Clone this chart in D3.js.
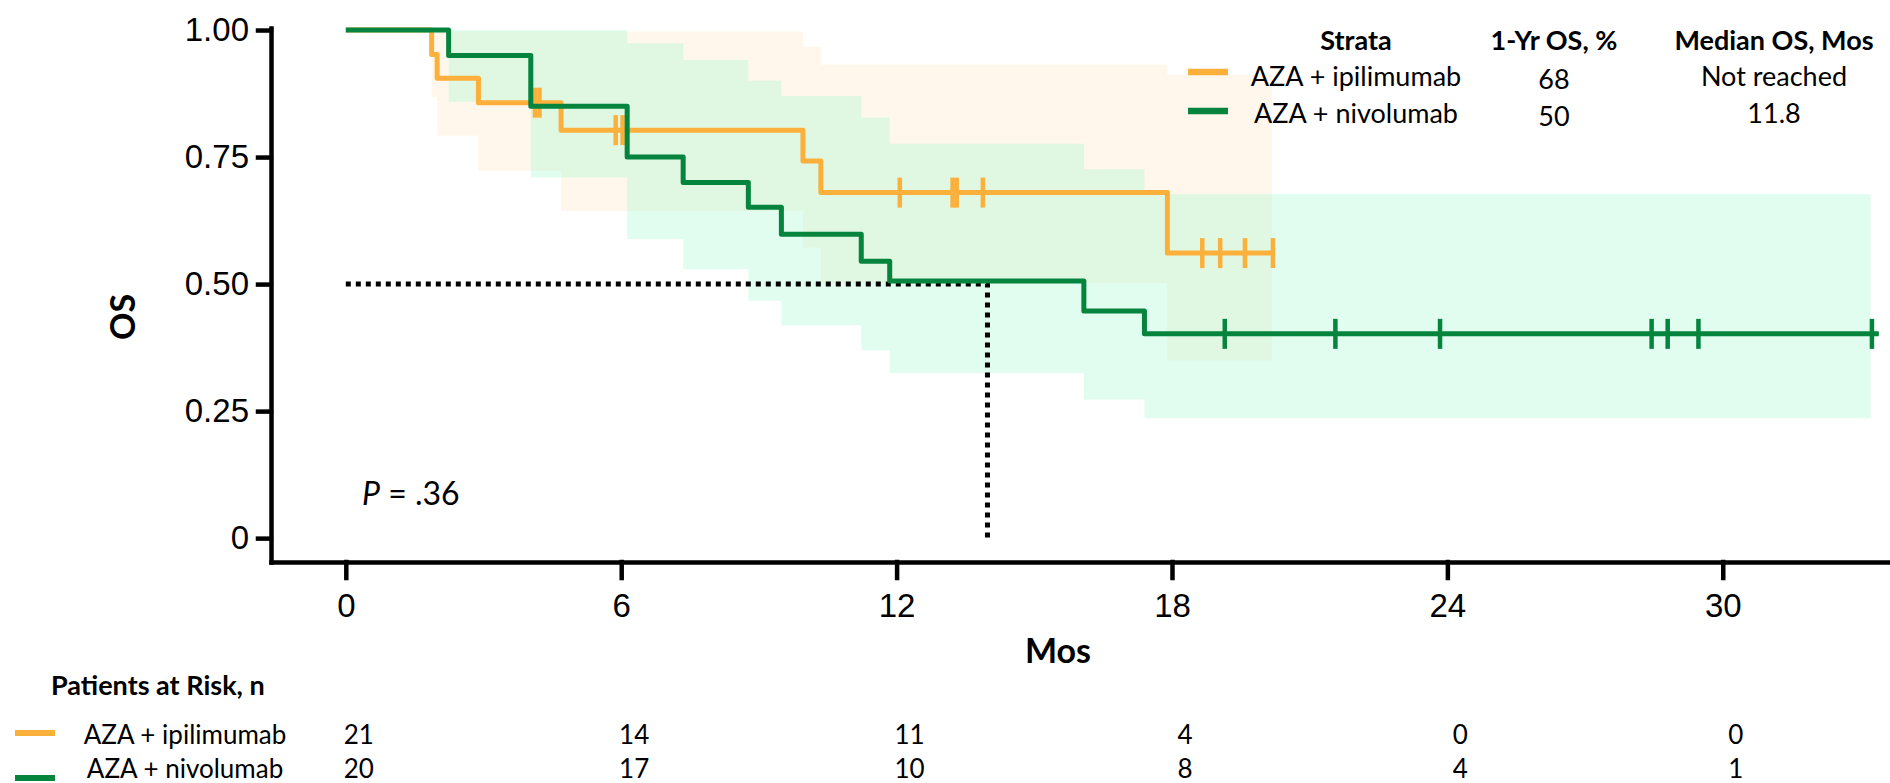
<!DOCTYPE html>
<html>
<head>
<meta charset="utf-8">
<script src="https://cdn.jsdelivr.net/npm/d3@7"></script>
<style>
  body { margin: 0; background: #fff; }
  svg { display: block; font-family: Lato, "Open Sans", sans-serif; }
</style>
</head>
<body>
<div id="chart"></div>
<script>
// Values (months, survival probability)
const groups = ["AZA + ipilimumab", "AZA + nivolumab"];

const ipiTimes = [0, 1.87, 1.99, 2.89, 4.69, 9.96, 10.35, 17.9];
const ipiSurv = [1, 0.952, 0.905, 0.857, 0.803, 0.742, 0.68, 0.561];
const ipiEnd = 20.25;
const ipiCensor = [4.12, 4.22, 5.88, 6.03, 12.07, 13.22, 13.31, 13.88, 18.66, 19.05, 19.59, 20.2];
const ipiCiTimes = [1.87, 1.99, 2.89, 4.69, 9.96, 10.35, 17.9];
const ipiLower = [0.868, 0.792, 0.723, 0.644, 0.572, 0.502, 0.35];
const ipiUpper = [0.997, 0.997, 0.997, 0.997, 0.967, 0.932, 0.912];
const ipiCiEnd = 20.18;

const nivoTimes = [0, 2.24, 4.03, 6.13, 7.35, 8.77, 9.49, 11.23, 11.85, 16.08, 17.4];
const nivoSurv = [1, 0.95, 0.85, 0.75, 0.7, 0.651, 0.598, 0.545, 0.506, 0.447, 0.402];
const nivoEnd = 33.4;
const nivoCensor = [19.15, 21.56, 23.84, 28.45, 28.8, 29.47, 33.25];
const nivoCiTimes = [2.24, 4.03, 6.13, 7.35, 8.77, 9.49, 11.23, 11.85, 16.08, 17.4];
const nivoLower = [0.859, 0.71, 0.588, 0.529, 0.467, 0.419, 0.37, 0.325, 0.273, 0.236];
const nivoUpper = [1, 1, 0.974, 0.941, 0.9, 0.87, 0.828, 0.776, 0.726, 0.677];
const nivoCiEnd = 33.22;

const medianGuide = [[0, 0.5], [13.98, 0.5], [13.98, 0]];

const xTicks = [0, 6, 12, 18, 24, 30];
const yTicks = [0, 0.25, 0.5, 0.75, 1];
const yTickLabels = ["0", "0.25", "0.50", "0.75", "1.00"];

const legendHeaders = ["Strata", "1-Yr OS, %", "Median OS, Mos"];
const oneYearOS = ["68", "50"];
const medianOS = ["Not reached", "11.8"];

const riskTimes = [0, 6, 12, 18, 24, 30];
const ipiAtRisk = [21, 14, 11, 4, 0, 0];
const nivoAtRisk = [20, 17, 10, 8, 4, 1];

const pValueText = ".36";

// Layout
const width = 1890;
const height = 783;
const lineColors = ["#FBB03B", "#05843E"];

const x = d3.scaleLinear().domain([-1.63, 33.6]).range([271, 1888]);
const y = d3.scaleLinear().domain([-0.047, 1.004]).range([562, 28]);

const svg = d3
  .create("svg")
  .attr("width", width)
  .attr("height", height)
  .attr("viewBox", [0, 0, width, height]);

// Build series
const series = [
  {
    name: groups[0],
    color: lineColors[0],
    steps: ipiTimes.map((t, i) => ({ t, s: ipiSurv[i] })).concat([{ t: ipiEnd, s: ipiSurv[ipiSurv.length - 1] }]),
    censor: ipiCensor.map((t) => ({ t, s: ipiSurv[d3.bisectRight(ipiTimes, t) - 1] })),
    ci: ipiCiTimes.map((t, i) => ({ t, lo: ipiLower[i], hi: ipiUpper[i] }))
      .concat([{ t: ipiCiEnd, lo: ipiLower[ipiLower.length - 1], hi: ipiUpper[ipiUpper.length - 1] }]),
    band: "#FBB03B",
    bandOpacity: 0.1,
    atRisk: ipiAtRisk,
  },
  {
    name: groups[1],
    color: lineColors[1],
    steps: nivoTimes.map((t, i) => ({ t, s: nivoSurv[i] })).concat([{ t: nivoEnd, s: nivoSurv[nivoSurv.length - 1] }]),
    censor: nivoCensor.map((t) => ({ t, s: nivoSurv[d3.bisectRight(nivoTimes, t) - 1] })),
    ci: nivoCiTimes.map((t, i) => ({ t, lo: nivoLower[i], hi: nivoUpper[i] }))
      .concat([{ t: nivoCiEnd, lo: nivoLower[nivoLower.length - 1], hi: nivoUpper[nivoUpper.length - 1] }]),
    band: "#A1F9CE",
    bandOpacity: 0.33,
    atRisk: nivoAtRisk,
  },
];

// Confidence bands
const area = d3
  .area()
  .x((d) => x(d.t))
  .y0((d) => y(d.lo))
  .y1((d) => y(d.hi))
  .curve(d3.curveStepAfter);

svg
  .append("g")
  .selectAll("path")
  .data(series)
  .join("path")
  .attr("d", (d) => area(d.ci))
  .attr("fill", (d) => d.band)
  .attr("fill-opacity", (d) => d.bandOpacity);

// Median guide (dotted)
svg
  .append("path")
  .attr("d", d3.line().x((d) => x(d[0])).y((d) => y(d[1]))(medianGuide))
  .attr("fill", "none")
  .attr("stroke", "#000")
  .attr("stroke-width", 5)
  .attr("stroke-dasharray", "5 5");

// Axes
svg
  .append("g")
  .attr("transform", `translate(0,${y.range()[0]})`)
  .call(d3.axisBottom(x).tickValues(xTicks).tickSize(16).tickSizeOuter(0).tickPadding(16))
  .call((g) => g.selectAll("path, line").attr("stroke-width", 4.5).attr("stroke-linecap", "square"))
  .call((g) => g.selectAll("text").attr("font-size", 33).attr("font-family", null));

svg
  .append("g")
  .attr("transform", `translate(${x.range()[0]},0)`)
  .call(
    d3
      .axisLeft(y)
      .tickValues(yTicks)
      .tickFormat((d, i) => yTickLabels[i])
      .tickSize(13)
      .tickSizeOuter(0)
      .tickPadding(9)
  )
  .call((g) => g.selectAll("path, line").attr("stroke-width", 4.5).attr("stroke-linecap", "square"))
  .call((g) => g.selectAll("text").attr("font-size", 33).attr("font-family", null));

svg
  .append("text")
  .attr("transform", "translate(121,317) rotate(-90)")
  .attr("text-anchor", "middle")
  .attr("dominant-baseline", "central")
  .attr("font-size", 34)
  .attr("font-weight", "bold")
  .text("OS");

svg
  .append("text")
  .attr("x", 1058)
  .attr("y", 649)
  .attr("text-anchor", "middle")
  .attr("dominant-baseline", "central")
  .attr("font-size", 34)
  .attr("font-weight", "bold")
  .text("Mos");

// KM lines
const line = d3
  .line()
  .x((d) => x(d.t))
  .y((d) => y(d.s))
  .curve(d3.curveStepAfter);

const curves = svg.append("g").selectAll("g").data(series).join("g");

curves
  .append("path")
  .attr("d", (d) => line(d.steps))
  .attr("fill", "none")
  .attr("stroke", (d) => d.color)
  .attr("stroke-width", 5)
  .attr("stroke-linejoin", "round");

curves
  .selectAll("line")
  .data((d) => d.censor.map((c) => ({ ...c, color: d.color })))
  .join("line")
  .attr("x1", (d) => x(d.t))
  .attr("x2", (d) => x(d.t))
  .attr("y1", (d) => y(d.s) - 15)
  .attr("y2", (d) => y(d.s) + 15)
  .attr("stroke", (d) => d.color)
  .attr("stroke-width", 4.5);

// P value
svg
  .append("text")
  .attr("x", 362)
  .attr("y", 492)
  .attr("dominant-baseline", "central")
  .attr("font-size", 32)
  .call((t) => t.append("tspan").attr("font-style", "italic").text("P"))
  .call((t) => t.append("tspan").text(` = ${pValueText}`));

// Legend table (top right)
const colX = [1356, 1554, 1774];
const legend = svg.append("g").attr("text-anchor", "middle").attr("dominant-baseline", "central");

legend
  .selectAll("text.head")
  .data(legendHeaders)
  .join("text")
  .attr("class", "head")
  .attr("x", (d, i) => colX[i])
  .attr("y", 39)
  .attr("font-size", 27)
  .attr("font-weight", "bold")
  .text((d) => d);

const legendRowY = [75, 112];
series.forEach((s, i) => {
  legend
    .append("line")
    .attr("x1", 1188)
    .attr("x2", 1228)
    .attr("y1", legendRowY[i] - 3 + i * 2)
    .attr("y2", legendRowY[i] - 3 + i * 2)
    .attr("stroke", s.color)
    .attr("stroke-width", 6.5);
  legend.append("text").attr("x", colX[0]).attr("y", legendRowY[i]).attr("font-size", 27).text(s.name);
  legend.append("text").attr("x", colX[1]).attr("y", legendRowY[i] + 3).attr("font-size", 27).text(oneYearOS[i]);
  legend.append("text").attr("x", colX[2]).attr("y", legendRowY[i]).attr("font-size", 27).text(medianOS[i]);
});

// Patients at risk table
svg
  .append("text")
  .attr("x", 51)
  .attr("y", 684)
  .attr("dominant-baseline", "central")
  .attr("font-size", 27)
  .attr("font-weight", "bold")
  .text("Patients at Risk, n");

const riskRowY = [734, 768];
const swatchY = [733, 778];
series.forEach((s, i) => {
  const row = svg.append("g").attr("dominant-baseline", "central").attr("font-size", 26);
  row
    .append("line")
    .attr("x1", 15)
    .attr("x2", 55)
    .attr("y1", swatchY[i])
    .attr("y2", swatchY[i])
    .attr("stroke", s.color)
    .attr("stroke-width", 6);
  row.append("text").attr("x", 185).attr("y", riskRowY[i]).attr("text-anchor", "middle").text(s.name);
  row
    .selectAll("text.n")
    .data(s.atRisk)
    .join("text")
    .attr("class", "n")
    .attr("x", (d, j) => x(riskTimes[j]) + 13)
    .attr("y", riskRowY[i])
    .attr("text-anchor", "middle")
    .text((d) => d);
});

document.getElementById("chart").appendChild(svg.node());
</script>
</body>
</html>
